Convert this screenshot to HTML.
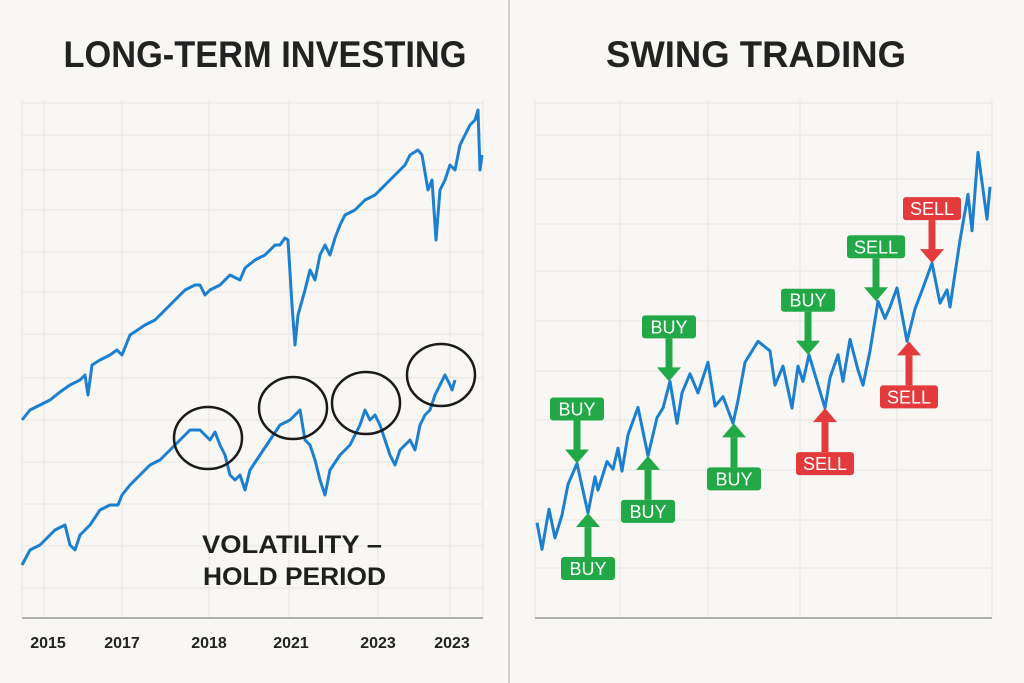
<!DOCTYPE html>
<html><head><meta charset="utf-8"><style>
html,body{margin:0;padding:0;background:#f8f7f4;}
svg{display:block;font-family:"Liberation Sans",sans-serif;}
</style></head><body>
<svg id="chart" width="1024" height="683" viewBox="0 0 1024 683">
<rect x="0" y="0" width="1024" height="683" fill="#f8f7f4"/>
<line x1="509" y1="0" x2="509" y2="683" stroke="#cfcfcf" stroke-width="2"/>
<text x="265" y="67" text-anchor="middle" font-size="37" font-weight="bold" fill="#222" textLength="403" lengthAdjust="spacingAndGlyphs">LONG-TERM INVESTING</text>
<text x="756" y="67" text-anchor="middle" font-size="37" font-weight="bold" fill="#222" textLength="300" lengthAdjust="spacingAndGlyphs">SWING TRADING</text>
<g id="left"></g>
<g id="right"></g>
</svg>
<script>
// ---- Long-term data ----
const ltUpperT = [0,8,18,28,38,48,58,63,66,70,78,88,95,100,108,123,133,143,153,163,173,178,183,188,198,208,218,223,233,243,253,258,263,266,270,273,276,283,288,293,298,303,308,313,318,323,333,343,353,363,373,383,388,396,400,406,410,414,418,423,428,433,438,443,448,453,456,458,460];
const ltUpperP = [198,208,213,218,226,233,238,243,223,253,258,263,268,263,283,293,298,308,318,328,333,333,323,328,333,343,338,350,358,363,373,373,380,378,313,273,303,328,348,338,363,373,363,380,393,403,408,418,423,433,443,453,463,468,463,428,438,378,428,438,453,448,473,483,493,498,508,448,463];
const ltLowerT = [0,8,18,33,43,48,53,58,68,78,88,96,100,108,118,128,138,148,158,168,178,188,193,198,203,208,213,218,223,228,238,248,258,268,278,283,288,293,298,303,308,318,328,338,343,348,353,358,363,368,373,378,388,393,398,403,408,413,418,423,428,430,433];
const ltLowerP = [53,68,73,88,93,73,68,83,93,108,113,113,123,133,143,153,158,168,178,188,188,178,186,173,163,143,138,143,128,148,163,178,193,198,208,178,173,158,138,123,148,163,173,193,208,198,203,193,178,163,153,168,178,168,193,203,208,223,233,243,233,228,238];
const ltTickLabels = ["2015","2017","2018","2021","2023","2023"];
const ltTickT = [26,100,187,269,356,430];
const ltCircleT = [186,271,344,419];
const ltCircleP = [180,210,215,243];
// ---- Swing data ----
const swT = [2,7,14,20,27,33,42,53,60,63,72,78,83,87,93,103,113,122,128,135,142,147,155,163,173,180,188,198,203,210,223,235,240,248,257,263,268,274,282,290,295,303,308,315,323,328,335,343,350,355,362,367,372,380,388,397,405,412,415,425,433,437,443,452,455];
const swP = [250,180,285,210,270,350,405,275,370,335,410,390,445,385,480,552,425,525,550,620,510,590,640,590,670,555,580,510,570,670,725,700,610,660,550,660,620,690,620,550,630,690,620,730,650,610,700,830,785,815,865,795,725,810,865,930,825,860,815,990,1110,1015,1220,1045,1130];
const sigLabel = ["BUY","BUY","BUY","BUY","BUY","BUY","SELL","SELL","SELL","SELL"];
const sigColor = ["green","green","green","green","green","green","red","green","red","red"];
const sigDir = ["down","up","up","down","up","down","up","down","up","down"];
const sigT = [42,53,113,134,199,273,290,341,374,397];
const sigP = [405,275,425,620,510,690,550,830,725,930];

const NS="http://www.w3.org/2000/svg";
function mk(tag,attrs,parent){const e=document.createElementNS(NS,tag);for(const k in attrs)e.setAttribute(k,attrs[k]);parent.appendChild(e);return e;}
// left scales
const lx = t => 22 + t*(461/461);
const ly = p => 618 - p*(519/519);
// right scales
const rx = t => 535 + t*(457/457);
const ry = p => 618 - p*0.3816;

const L=document.getElementById('left'), R=document.getElementById('right');
const BLUE="#1d7fcf";
// left grid
[103,135,170,210,252,292,334,378,420,462,504,546,588].forEach(y=>{const l=mk('line',{x1:22,x2:483,y1:y,y2:y,stroke:'#e6e5e2','stroke-width':1},L);

});
[22,44,122,209,289,378,450,483].forEach(x=>{const l=mk('line',{x1:x,x2:x,y1:100,y2:618,stroke:'#e6e5e2','stroke-width':1},L);

});
const lax=mk('line',{x1:22,x2:483,y1:618,y2:618,stroke:'#999','stroke-width':1.5},L);


function pts(T,P,fx,fy){return T.map((t,i)=>fx(t).toFixed(1)+','+fy(P[i]).toFixed(1)).join(' ');}
const u=mk('polyline',{points:pts(ltUpperT,ltUpperP,lx,ly),fill:'none',stroke:BLUE,'stroke-width':3,'stroke-linejoin':'round'},L);


const lo=mk('polyline',{points:pts(ltLowerT,ltLowerP,lx,ly),fill:'none',stroke:BLUE,'stroke-width':3,'stroke-linejoin':'round'},L);


ltCircleT.forEach((t,i)=>{const c=mk('ellipse',{cx:lx(t),cy:ly(ltCircleP[i]),rx:34,ry:31,fill:'none',stroke:'#1a1a1a','stroke-width':2.5},L);

});
ltTickLabels.forEach((s,i)=>{const t=mk('text',{x:lx(ltTickT[i]),y:648,'text-anchor':'middle','font-size':16,'font-weight':'bold',fill:'#222'},L);t.textContent=s;

});
const a1=mk('text',{x:202,y:553,'font-size':25,'font-weight':'bold',fill:'#1f1f1f',textLength:180,lengthAdjust:'spacingAndGlyphs'},L);a1.textContent='VOLATILITY –';


const a2=mk('text',{x:203,y:585,'font-size':25,'font-weight':'bold',fill:'#1f1f1f',textLength:183,lengthAdjust:'spacingAndGlyphs'},L);a2.textContent='HOLD PERIOD';



// right grid
[103,135,179,224,271,321,371,420,470,520,568].forEach(y=>{const l=mk('line',{x1:535,x2:992,y1:y,y2:y,stroke:'#e6e5e2','stroke-width':1},R);

});
[535,620,708,800,897,992].forEach(x=>{const l=mk('line',{x1:x,x2:x,y1:100,y2:618,stroke:'#e6e5e2','stroke-width':1},R);

});
const rax=mk('line',{x1:535,x2:992,y1:618,y2:618,stroke:'#999','stroke-width':1.5},R);


const sw=mk('polyline',{points:pts(swT,swP,rx,ry),fill:'none',stroke:BLUE,'stroke-width':3,'stroke-linejoin':'round'},R);


const COL={green:'#23a847',red:'#e33b3b'};
sigLabel.forEach((lab,i)=>{
  const x=rx(sigT[i]), tip=ry(sigP[i]), c=COL[sigColor[i]];
  const g=mk('g',{},R);
  
  
  const s=sigDir[i]==='down'?-1:1; // box below tip if up arrow
  const by=tip + s*55;
  const w=lab==='BUY'?54:58;
  mk('rect',{x:x-w/2,y:by-11,width:w,height:23,rx:3,fill:c},g);
  const t=mk('text',{x:x,y:by+7,'text-anchor':'middle','font-size':18,fill:'#fff'},g);t.textContent=lab;
  const shaftStart=by - s*12, headBase=tip + s*14;
  mk('rect',{x:x-3.5,y:Math.min(shaftStart,headBase),width:7,height:Math.abs(headBase-shaftStart)+1,fill:c},g);
  mk('polygon',{points:`${x-12},${headBase} ${x+12},${headBase} ${x},${tip}`,fill:c},g);
});
</script>
</body></html>
